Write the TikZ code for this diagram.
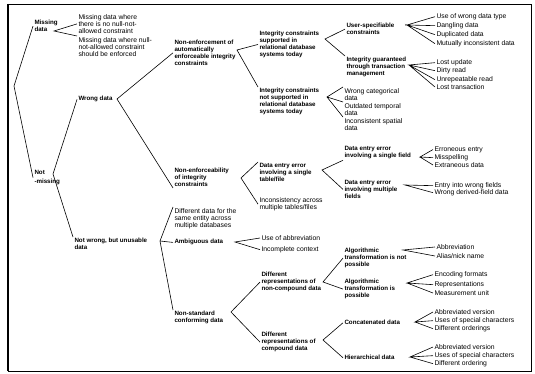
\documentclass[tikz,border=0pt]{standalone}
\usepackage{fontspec}
\setmainfont{Liberation Sans}
\usepackage{tikz}

\begin{document}
\begin{tikzpicture}[x=1pt,y=-1pt,line width=0.6pt,
  grp/.style={font=\fontsize{6.2}{6.7}\selectfont\bfseries,align=left,anchor=north west,inner sep=0pt,outer sep=1.5pt},
  item/.style={font=\fontsize{6.8}{6.9}\selectfont,align=left,anchor=north west,inner sep=0pt,outer sep=1.5pt}]
  \useasboundingbox (0,0) rectangle (535,374);
  \draw[line width=0.9pt] (8,4) rectangle (531,371);
  \draw[line width=1.6pt] (8,4)--(8,371);

  % first level
  \node[grp] (md) at (33,19) {Missing\\data};
  \node[grp] (nm) at (33,169) {Not\\[2pt]-missing};
  \node[item] (m1) at (77,13) {Missing data where\\there is no null-not-\\allowed constraint};
  \node[item] (m2) at (77,36) {Missing data where null-\\not-allowed constraint\\should be enforced};
  \coordinate (r) at (14,86);
  \coordinate (vmd) at (54,31);
  \draw (md.west)--(r)--(nm.west);
  \draw (m1.west)--(vmd)--(m2.north west);

  % wrong data
  \node[grp] (wd) at (77,95) {Wrong data};
  \node[grp] (nwu) at (73,237) {Not wrong, but unusable\\data};
  \coordinate (vnm) at (53,174);
  \draw (wd.west)--(vnm)--(nwu.north west);

  \node[grp] (nea) at (173,39) {Non-enforcement of\\automatically\\enforceable integrity\\constraints};
  \node[grp] (nei) at (173,167) {Non-enforceability\\of integrity\\constraints};
  \coordinate (vwd) at (117,99);
  \draw (nea.west)--(vwd)--(nei.south west);

  \node[grp] (ics) at (258,30) {Integrity constraints\\supported in\\relational database\\systems today};
  \node[grp] (icn) at (258,87) {Integrity constraints\\not supported in\\relational database\\systems today};
  \coordinate (vnea) at (237,50);
  \draw (ics.west)--(vnea)--(icn.north west);

  \node[grp] (us) at (345,22) {User-specifiable\\constraints};
  \node[grp] (ig) at (345,56) {Integrity guaranteed\\through transaction\\management};
  \coordinate (vics) at (325,39);
  \draw (us.west)--(vics)--(ig.north west);

  \node[item] (u1) at (435,12) {Use of wrong data type};
  \node[item] (u2) at (435,21) {Dangling data};
  \node[item] (u3) at (435,30) {Duplicated data};
  \node[item] (u4) at (435,39) {Mutually inconsistent data};
  \coordinate (vus) at (407,25);
  \draw (u1.west)--(vus)--(u2.west) (u3.west)--(vus)--(u4.west);

  \node[item] (g1) at (435,58) {Lost update};
  \node[item] (g2) at (435,66) {Dirty read};
  \node[item] (g3) at (435,75) {Unrepeatable read};
  \node[item] (g4) at (435,83) {Lost transaction};
  \coordinate (vig) at (409,65);
  \draw (g1.west)--(vig)--(g2.west) (g3.west)--(vig)--(g4.west);

  \node[item] (c1) at (343,87) {Wrong categorical\\data};
  \node[item] (c2) at (343,102) {Outdated temporal\\data};
  \node[item] (c3) at (343,117) {Inconsistent spatial\\data};
  \coordinate (vicn) at (327,97);
  \draw (c1.north west)--(vicn)--(c2.north west) (vicn)--(c3.north west);

  % non-enforceability
  \node[grp] (des) at (258,162) {Data entry error\\involving a single\\table/file};
  \node[item] (ia) at (258,196) {Inconsistency across\\multiple tables/files};
  \coordinate (vnei) at (241,178);
  \draw (des.north west)--(vnei)--(ia.west);

  \node[grp] (def) at (343,145) {Data entry error\\involving a single field};
  \node[grp] (dem) at (343,179) {Data entry error\\involving multiple\\fields};
  \coordinate (vdes) at (322,170);
  \draw (def.south west)--(vdes)--(dem.west);

  \node[item] (f1) at (433,145) {Erroneous entry};
  \node[item] (f2) at (433,153) {Misspelling};
  \node[item] (f3) at (433,161) {Extraneous data};
  \coordinate (vdef) at (420,157);
  \draw (f1.west)--(vdef)--(f2.west) (vdef)--(f3.west);

  \node[item] (e1) at (433,181) {Entry into wrong fields};
  \node[item] (e2) at (433,188) {Wrong derived-field data};
  \coordinate (vdem) at (405,185);
  \draw (e1.west)--(vdem)--(e2.west);

  % not wrong, but unusable
  \node[item] (dd) at (173,207) {Different data for the\\same entity across\\multiple databases};
  \node[grp] (ad) at (173,238) {Ambiguous data};
  \node[grp] (nsc) at (173,310) {Non-standard\\conforming data};
  \coordinate (vnwu) at (160,241);
  \draw (dd.north west)--(vnwu)--(nsc.north west) (vnwu)--(ad.west);

  \node[item] (ab1) at (260,234) {Use of abbreviation};
  \node[item] (ab2) at (260,245) {Incomplete context};
  \coordinate (vad) at (235,242);
  \draw (ab1.west)--(vad)--(ab2.west);

  \node[grp] (drn) at (260,271) {Different\\representations of\\non-compound data};
  \node[grp] (drc) at (260,331) {Different\\representations of\\compound data};
  \coordinate (vnsc) at (231,312);
  \draw (drn.west)--(vnsc)--(drc.west);

  \node[grp] (atn) at (343,247) {Algorithmic\\transformation is not\\possible};
  \node[grp] (atp) at (343,278) {Algorithmic\\transformation is\\possible};
  \coordinate (vdrn) at (323,282);
  \draw (atn.west)--(vdrn)--(atp.west);

  \node[item] (n1) at (435,243) {Abbreviation};
  \node[item] (n2) at (435,252) {Alias/nick name};
  \coordinate (vatn) at (403,250);
  \draw (n1.west)--(vatn)--(n2.west);

  \node[item] (p1) at (433,270) {Encoding formats};
  \node[item] (p2) at (433,280) {Representations};
  \node[item] (p3) at (433,289) {Measurement unit};
  \coordinate (vatp) at (407,283);
  \draw (p1.west)--(vatp)--(p2.west) (vatp)--(p3.west);

  \node[grp] (cd) at (343,319) {Concatenated data};
  \node[grp] (hd) at (343,354) {Hierarchical data};
  \coordinate (vdrc) at (323,340);
  \draw (cd.west)--(vdrc)--(hd.west);

  \node[item] (k1) at (433,308) {Abbreviated version};
  \node[item] (k2) at (433,316) {Uses of special characters};
  \node[item] (k3) at (433,324) {Different orderings};
  \coordinate (vcd) at (415,322);
  \draw (k1.west)--(vcd)--(k2.west) (vcd)--(k3.west);

  \node[item] (h1) at (433,343) {Abbreviated version};
  \node[item] (h2) at (433,351) {Uses of special characters};
  \node[item] (h3) at (433,359) {Different ordering};
  \coordinate (vhd) at (410,357);
  \draw (h1.west)--(vhd)--(h2.west) (vhd)--(h3.west);
\end{tikzpicture}
\end{document}
